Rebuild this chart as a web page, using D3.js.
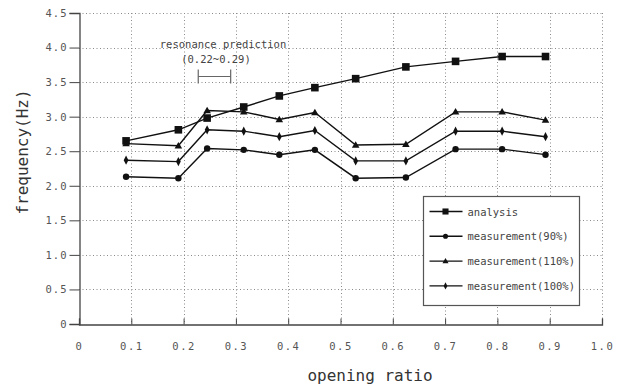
<!DOCTYPE html>
<html>
<head>
<meta charset="utf-8">
<script src="https://cdn.jsdelivr.net/npm/d3@7"></script>
<style>
  body { margin: 0; background: #fff; }
  text { font-family: "DejaVu Sans Mono", "Liberation Mono", monospace; }
</style>
</head>
<body>
<div id="chart"></div>
<script>
const openingRatio = [0.09, 0.19, 0.245, 0.315, 0.383, 0.451, 0.529, 0.625, 0.72, 0.809, 0.892];
const analysis   = [2.65, 2.81, 2.98, 3.14, 3.30, 3.42, 3.55, 3.72, 3.80, 3.87, 3.87];
const meas90     = [2.13, 2.11, 2.54, 2.52, 2.45, 2.52, 2.11, 2.12, 2.53, 2.53, 2.45];
const meas110    = [2.61, 2.58, 3.09, 3.07, 2.96, 3.06, 2.59, 2.60, 3.07, 3.07, 2.95];
const meas100    = [2.37, 2.35, 2.81, 2.79, 2.71, 2.80, 2.36, 2.36, 2.79, 2.79, 2.71];
const xTicks = [0, 0.1, 0.2, 0.3, 0.4, 0.5, 0.6, 0.7, 0.8, 0.9, 1.0];
const yTicks = [0, 0.5, 1.0, 1.5, 2.0, 2.5, 3.0, 3.5, 4.0, 4.5];
const resonanceRange = [0.228, 0.29];

const series = [
  { name: "analysis", values: analysis, marker: "square" },
  { name: "measurement(90%)", values: meas90, marker: "circle" },
  { name: "measurement(110%)", values: meas110, marker: "triangle" },
  { name: "measurement(100%)", values: meas100, marker: "diamond" }
];

const width = 621, height = 388;
const x = d3.scaleLinear().domain([0, 1]).range([79, 602]);
const y = d3.scaleLinear().domain([0, 4.5]).range([324, 13]);

const svg = d3.select("#chart").append("svg")
  .attr("width", width)
  .attr("height", height);

// markers
function markerPath(type, s) {
  if (type === "square") return `M${-s},${-s}H${s}V${s}H${-s}Z`;
  if (type === "circle") return d3.symbol(d3.symbolCircle, Math.PI * s * s)();
  if (type === "triangle") return `M0,${-s * 1.05}L${s * 1.05},${s * 0.75}L${-s * 1.05},${s * 0.75}Z`;
  return `M0,${-s * 1.35}L${s * 0.7},0L0,${s * 1.35}L${-s * 0.7},0Z`;
}
const markerSize = { square: 3.8, circle: 3.2, triangle: 3.6, diamond: 3.4 };

// grid
const grid = svg.append("g")
  .attr("stroke", "#8a8a8a")
  .attr("stroke-width", 1)
  .attr("stroke-dasharray", "1,2.5");
grid.selectAll("line.h")
  .data(yTicks.filter(d => d > 0))
  .enter().append("line")
  .attr("x1", x(0)).attr("x2", x(1))
  .attr("y1", d => Math.round(y(d)) + 0.5)
  .attr("y2", d => Math.round(y(d)) + 0.5);
grid.selectAll("line.v")
  .data(xTicks.filter(d => d > 0))
  .enter().append("line")
  .attr("y1", y(4.5)).attr("y2", y(0))
  .attr("x1", d => Math.round(x(d)) + 0.5)
  .attr("x2", d => Math.round(x(d)) + 0.5);

// y axis
const yAxis = svg.append("g")
  .attr("transform", `translate(${Math.round(x(0)) + 0.5},0)`)
  .call(d3.axisLeft(y).tickValues(yTicks).tickSize(10).tickPadding(2)
    .tickFormat(d => d === 0 ? "0" : d3.format(".1f")(d)));
yAxis.select(".domain").attr("stroke", "#444").attr("stroke-width", 1.3);
yAxis.selectAll(".tick line").attr("stroke", "#444");
yAxis.selectAll(".tick text")
  .attr("fill", "#555")
  .attr("font-size", "10.5px")
  .attr("letter-spacing", "1px")
  .attr("font-family", "DejaVu Sans Mono, monospace");

// x axis
const xAxis = svg.append("g")
  .attr("transform", `translate(0,${Math.round(y(0)) + 0.5})`)
  .call(d3.axisBottom(x).tickValues(xTicks).tickSize(-6).tickPadding(18)
    .tickFormat(d => d === 0 ? "0" : d3.format(".1f")(d)));
xAxis.select(".domain").attr("stroke", "#444").attr("stroke-width", 1.3);
xAxis.selectAll(".tick line").attr("stroke", "#444");
xAxis.selectAll(".tick text")
  .attr("fill", "#555")
  .attr("font-size", "10.5px")
  .attr("letter-spacing", "1.5px")
  .attr("font-family", "DejaVu Sans Mono, monospace");

// axis titles
svg.append("text")
  .attr("x", 370).attr("y", 381)
  .attr("text-anchor", "middle")
  .attr("font-size", "16px")
  .attr("fill", "#333")
  .text("opening ratio");
svg.append("text")
  .attr("transform", "translate(28,152) rotate(-90)")
  .attr("text-anchor", "middle")
  .attr("font-size", "16px")
  .attr("fill", "#333")
  .text("frequency(Hz)");

// series lines and markers
const line = d3.line()
  .x((d, i) => x(openingRatio[i]))
  .y(d => y(d));

series.forEach(s => {
  svg.append("path")
    .datum(s.values)
    .attr("fill", "none")
    .attr("stroke", "#111")
    .attr("stroke-width", 1.4)
    .attr("d", line);
  svg.selectAll(null)
    .data(s.values)
    .enter().append("path")
    .attr("transform", (d, i) => `translate(${x(openingRatio[i])},${y(d)})`)
    .attr("d", markerPath(s.marker, markerSize[s.marker]))
    .attr("fill", "#111");
});

// resonance prediction bracket
const br = svg.append("g").attr("stroke", "#666").attr("stroke-width", 1.2);
const by = 76.5;
br.append("line").attr("x1", x(resonanceRange[0])).attr("x2", x(resonanceRange[1])).attr("y1", by).attr("y2", by);
resonanceRange.forEach(r => {
  br.append("line").attr("x1", x(r)).attr("x2", x(r)).attr("y1", by - 7).attr("y2", by + 7);
});
svg.append("text")
  .attr("x", 223).attr("y", 48)
  .attr("text-anchor", "middle")
  .attr("font-size", "10.5px")
  .attr("fill", "#444")
  .text("resonance prediction");
svg.append("text")
  .attr("x", 216).attr("y", 63)
  .attr("text-anchor", "middle")
  .attr("font-size", "10.5px")
  .attr("fill", "#444")
  .text("(0.22~0.29)");

// legend
const legend = svg.append("g").attr("transform", "translate(423.5,196.5)");
legend.append("rect")
  .attr("width", 156).attr("height", 109)
  .attr("fill", "#fff")
  .attr("stroke", "#555")
  .attr("stroke-width", 1.2);
const entry = legend.selectAll("g.entry")
  .data(series)
  .enter().append("g")
  .attr("transform", (d, i) => `translate(0,${15 + i * 24.8})`);
entry.append("line")
  .attr("x1", 6).attr("x2", 39)
  .attr("stroke", "#111").attr("stroke-width", 1.4);
entry.append("path")
  .attr("transform", "translate(22,0)")
  .attr("d", d => markerPath(d.marker, markerSize[d.marker] * 0.8))
  .attr("fill", "#111");
entry.append("text")
  .attr("x", 44).attr("y", 4)
  .attr("font-size", "10.5px")
  .attr("fill", "#444")
  .text(d => d.name);
</script>
</body>
</html>
